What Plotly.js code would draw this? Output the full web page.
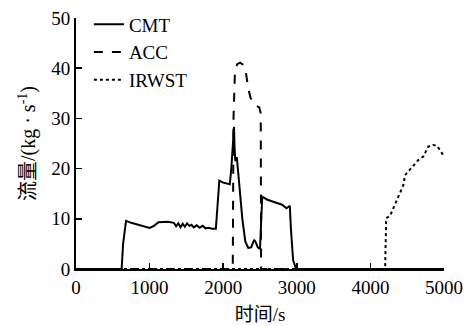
<!DOCTYPE html>
<html>
<head>
<meta charset="utf-8">
<script src="https://cdn.plot.ly/plotly-3.0.1.min.js"></script>
<style>html,body{margin:0;padding:0;background:#fff;}#chart{width:471px;height:326px;}</style>
</head>
<body>
<div id="chart"></div>
<script>
const seriesNames = ["CMT", "ACC", "IRWST"];

const cmtX = [0, 620, 640, 680, 750, 850, 1000, 1060, 1120, 1250, 1330, 1360, 1390, 1420, 1450, 1480, 1510, 1540, 1570, 1600, 1640, 1680, 1720, 1760, 1800, 1850, 1900, 1920, 1947, 2000, 2090, 2110, 2130, 2147, 2155, 2165, 2185, 2220, 2260, 2300, 2340, 2380, 2420, 2440, 2470, 2500, 2515, 2530, 2600, 2700, 2800, 2860, 2905, 2920, 2950, 2990, 3050, 5000];
const cmtY = [0, 0, 5, 9.6, 9.2, 8.8, 8.2, 8.6, 9.3, 9.4, 9.2, 8.5, 9.1, 8.3, 9.0, 8.4, 9.1, 8.6, 8.8, 8.3, 8.7, 8.2, 8.6, 8.1, 8.2, 8.0, 8.0, 12, 17.6, 17.2, 16.9, 20, 26, 28.3, 24, 21.5, 22.3, 17, 10, 5.5, 4.2, 4.3, 5.8, 5.4, 4.3, 4.0, 10, 14.4, 13.8, 13.3, 12.8, 12.1, 12.6, 8, 1.8, 0, 0, 0];

const accX = [0, 2130, 2140, 2160, 2190, 2230, 2270, 2300, 2340, 2370, 2420, 2490, 2510, 2515, 5000];
const accY = [0, 0, 30, 39.5, 40.8, 41.1, 40.7, 40.0, 36, 34.2, 32.7, 32.2, 31, 0, 0];

const irwstX = [0, 4195, 4200, 4215, 4266, 4311, 4393, 4447, 4470, 4538, 4651, 4719, 4787, 4850, 4900, 4940, 4990];
const irwstY = [0, 0, 0, 10.1, 10.6, 12.1, 14.7, 16.7, 18.7, 19.9, 21.7, 22.4, 24.4, 24.7, 24.6, 23.8, 22.7];

const xTicks = [0, 1000, 2000, 3000, 4000, 5000];
const yTicks = [0, 10, 20, 30, 40, 50];

const serif = "Liberation Serif, Times New Roman, serif";
const cjkSpan = (s) => '<span style="font-family:\'Noto Sans CJK SC\'">' + s + '</span>';

const traces = [
  {x: cmtX, y: cmtY, name: seriesNames[0], mode: "lines", line: {color: "#000", width: 2, dash: "solid"}},
  {x: accX, y: accY, name: seriesNames[1], mode: "lines", line: {color: "#000", width: 2, dash: "dash"}},
  {x: irwstX, y: irwstY, name: seriesNames[2], mode: "lines", line: {color: "#000", width: 2, dash: "dot"}}
];

const layout = {
  width: 471, height: 326,
  margin: {l: 76, r: 27, t: 18, b: 57, autoexpand: false},
  paper_bgcolor: "#fff", plot_bgcolor: "#fff",
  showlegend: true,
  legend: {x: 0.035, y: 1.05, xanchor: "left", yanchor: "top", bgcolor: "rgba(0,0,0,0)",
           font: {family: serif, size: 19, color: "#000"}, tracegroupgap: 0},
  xaxis: {
    range: [0, 5000], tickvals: xTicks, ticktext: xTicks.map(String),
    showline: true, linecolor: "#000", linewidth: 2, ticks: "inside", ticklen: 6, tickwidth: 1.5, tickcolor: "#000",
    showgrid: false, zeroline: false, mirror: false, automargin: false,
    tickfont: {family: serif, size: 19, color: "#000"},
    title: {text: cjkSpan("时间") + "/s", font: {family: serif, size: 19, color: "#000"}, standoff: 11}
  },
  yaxis: {
    range: [0, 50], tickvals: yTicks, ticktext: yTicks.map(String),
    showline: true, linecolor: "#000", linewidth: 2, ticks: "inside", ticklen: 6, tickwidth: 1.5, tickcolor: "#000",
    showgrid: false, zeroline: false, mirror: false, automargin: false,
    tickfont: {family: serif, size: 19, color: "#000"},
    title: {text: cjkSpan("流量") + "/(kg · s<sup>-1</sup>)", font: {family: serif, size: 20, color: "#000"}, standoff: 10}
  }
};

Plotly.newPlot("chart", traces, layout, {displayModeBar: false, staticPlot: true});
</script>
</body>
</html>
